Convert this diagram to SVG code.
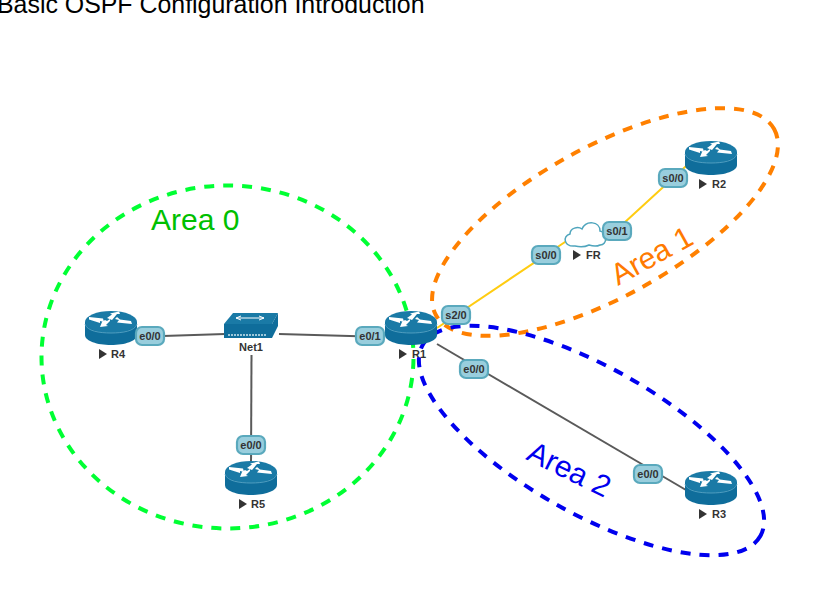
<svg xmlns="http://www.w3.org/2000/svg" width="823" height="612" viewBox="0 0 823 612">
<style>
text{font-family:"Liberation Sans",Arial,sans-serif}
.link{fill:none;stroke:#5a5a5a;stroke-width:2}
.serial{fill:none;stroke:#ffcc11;stroke-width:2}
.area{fill:none;stroke-width:4;stroke-dasharray:10 9}
.port rect{fill:#99cedd;stroke:#5aa9bd;stroke-width:2.2}
.port text{font-size:11px;font-weight:bold;fill:#333;text-anchor:middle}
.name{font-size:11px;font-weight:bold;fill:#333}
.tri{fill:#333}
.areal{font-size:30px}
</style>
<defs>
<g id="router">
<path d="M-26,-5V8C-26,14-14,18 0,18S26,14 26,8V-5Z" fill="#0f6d9b"/>
<ellipse cx="0" cy="-5" rx="26" ry="11" fill="#1a7aa6"/>
<path d="M-26,-3C-24,4-12,6 0,6S24,4 26,-3" fill="none" stroke="#4f9dbf" stroke-width="1"/>
<path d="M-22,-10L-8,-8.500L-7,-5L-11,-6L-11,-4L-22,-7.500ZM-4,-9L1,-12.500L-1,-13.500L8,-15.500L9,-13L6,-13L1,-7ZM21,-3L6,-4.500L8,-7L4,-8L6,-10L9,-7.500L20,-6ZM-11,0L-9,-5L-6,-7L-4,-6L-1,-8L-1,-6L-5,-2L-3,-1Z" fill="#fff"/>
</g>
<path id="play" d="M0,-5L8,0L0,5Z"/>
</defs>
<text x="-3" y="13" font-size="24.900" fill="#000">Basic OSPF Configuration Introduction</text>
<g id="connectors">
<path class="link" d="M163,336L225,334"/>
<path class="link" d="M279,334L385,337"/>
<path class="link" d="M251.500,355L251,466"/>
<path class="link" d="M437,344L686,490"/>
<path class="serial" d="M437,328L568,240M600,245L696,157"/>
</g>
<g id="R1-label"><use href="#play" class="tri" x="399" y="354"/><text class="name" x="412" y="358">R1</text></g>
<g id="areas">
<ellipse class="area" cx="227.500" cy="357" rx="186" ry="171.500" stroke="#00ff33" stroke-dashoffset="-2"/>
<ellipse class="area" cx="605" cy="222" rx="193" ry="75" transform="rotate(-28.800 605 222)" stroke="#ff8000"/>
<ellipse class="area" cx="591.500" cy="440.500" rx="194" ry="73" transform="rotate(29.500 591.500 440.500)" stroke="#0000ee"/>
</g>
<text class="areal" x="151" y="230" fill="#00c000">Area 0</text>
<text class="areal" transform="translate(618,286) rotate(-29)" fill="#ff7a00">Area 1</text>
<text class="areal" transform="translate(525,459) rotate(26)" fill="#0000ee">Area 2</text>
<g id="R4"><use href="#router" x="111" y="327"/><use href="#play" class="tri" x="99" y="354"/><text class="name" x="111" y="358">R4</text></g>
<g id="Net1">
<path d="M224,324L233,313H278L272,324Z" fill="#1a7aa6"/>
<path d="M272,324L278,313V326L272,338Z" fill="#0f6d9b"/>
<rect x="224" y="324" width="48" height="14" fill="#0f6d9b"/>
<path d="M236,318H264M236,318L241,316M236,318L241,320M264,318L259,316M264,318L259,320" stroke="#fff" fill="none"/>
<path d="M228,335H266" stroke="#9cc7da" stroke-width="2" stroke-dasharray="2 1"/>
<text class="name" x="251" y="351" text-anchor="middle">Net1</text>
</g>
<g id="R5"><use href="#router" x="251" y="477"/><use href="#play" class="tri" x="239" y="504"/><text class="name" x="251" y="508">R5</text></g>
<g id="R1"><use href="#router" x="411" y="327"/></g>
<g id="R2"><use href="#router" x="711" y="157"/><use href="#play" class="tri" x="699" y="184"/><text class="name" x="712" y="188">R2</text></g>
<g id="R3"><use href="#router" x="711" y="487"/><use href="#play" class="tri" x="699" y="514"/><text class="name" x="712" y="518">R3</text></g>
<g id="FR">
<path d="M575,246C564,247 562,236 570,234C570,228 578,226 582,229C586,220 600,221 600,231C607,232 608,245 600,245C596,247 592,246 589,245C585,247 579,247 575,246Z" fill="#fff" stroke="#4fa5bd" stroke-width="1.500"/>
<use href="#play" class="tri" x="573" y="255"/><text class="name" x="586" y="259">FR</text>
</g>
<g id="ports">
<g class="port"><rect x="136" y="327" width="28" height="18" rx="6"/><text x="150" y="340">e0/0</text></g>
<g class="port"><rect x="356" y="327" width="28" height="18" rx="6"/><text x="370" y="340">e0/1</text></g>
<g class="port"><rect x="237" y="436" width="28" height="18" rx="6"/><text x="251" y="449">e0/0</text></g>
<g class="port"><rect x="442" y="306" width="28" height="18" rx="6"/><text x="456" y="319">s2/0</text></g>
<g class="port"><rect x="460" y="360" width="28" height="18" rx="6"/><text x="474" y="373">e0/0</text></g>
<g class="port"><rect x="532" y="246" width="28" height="18" rx="6"/><text x="546" y="259">s0/0</text></g>
<g class="port"><rect x="603" y="222" width="28" height="18" rx="6"/><text x="617" y="235">s0/1</text></g>
<g class="port"><rect x="659" y="169" width="28" height="18" rx="6"/><text x="673" y="182">s0/0</text></g>
<g class="port"><rect x="634" y="465" width="28" height="18" rx="6"/><text x="648" y="478">e0/0</text></g>
</g>
</svg>
